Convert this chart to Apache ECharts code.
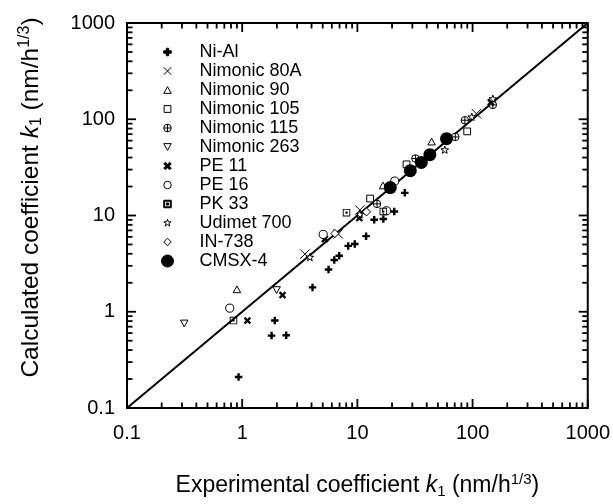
<!DOCTYPE html>
<html>
<head>
<meta charset="utf-8">
<script src="https://cdn.jsdelivr.net/npm/echarts@6/dist/echarts.min.js"></script>
<style>
html,body{margin:0;padding:0;background:#fff;}
#chart{width:613px;height:504px;}
</style>
</head>
<body>
<div id="chart"></div>
<script>
// ---- data (experimental k1, calculated k1) ----
const seriesNames = ['Ni-Al','Nimonic 80A','Nimonic 90','Nimonic 105','Nimonic 115','Nimonic 263','PE 11','PE 16','PK 33','Udimet 700','IN-738','CMSX-4'];
const niAl = [[0.93,0.21],[1.80,0.565],[1.92,0.81],[2.41,0.57],[4.08,1.79],[5.62,2.75],[6.30,3.45],[6.95,3.82],[8.32,4.83],[9.5,5.06],[11.9,6.1],[14.0,9.04],[16.8,9.2],[20.9,11.0],[25.8,17.2]];
const nimonic80A = [[3.50,3.97],[6.82,6.44],[10.5,11.4],[108,114]];
const nimonic90 = [[0.90,1.71],[16.7,20.5],[44.1,58.6]];
const nimonic105 = [[12.9,15.0],[26.7,34.0],[89.8,74.8]];
const nimonic115 = [[14.8,13.2],[31.9,39.1],[70.8,65.5],[85.7,97.7],[150,141]];
const nimonic263 = [[0.314,0.755],[1.99,1.68]];
const pe11 = [[1.11,0.81],[2.24,1.49],[5.22,5.69],[10.4,9.4],[144,150]];
const pe16 = [[0.78,1.09],[5.05,6.36],[17.9,11.2],[21.1,22.8]];
const pk33 = [[0.84,0.81],[8.05,10.7],[16.8,11.0]];
const udimet700 = [[3.87,3.66],[10.5,10.2],[57.4,47.8],[98.4,105],[150,162]];
const in738 = [[6.38,6.5],[12.0,10.9]];
const cmsx4 = [[19.3,19.5],[28.8,29.2],[35.9,35.6],[42.6,42.9],[59.4,62.8]];
const parityLine = [[0.1,0.1],[1000,1000]];
const tickLabels = ['0.1','1','10','100','1000'];
const majorTicks = [0.1,1,10,100,1000];
const decades = [0.1,1,10,100];
const minorSteps = [2,3,4,5,6,7,8,9];

const FONT = 'Liberation Sans, Arial, sans-serif';
const PAD = 'M-3,-3M13,13';
const sym = {
  plus: 'path://' + PAD + 'M3.4,0H6.6V3.4H10V6.6H6.6V10H3.4V6.6H0V3.4H3.4Z',
  thinX: 'path://' + PAD + 'M0,0L10,10M10,0L0,10',
  triUp: 'path://' + PAD + 'M5,0.5L10,9.5L0,9.5Z',
  square: 'path://' + PAD + 'M0.5,0.5H9.5V9.5H0.5Z',
  circPlus: 'path://' + PAD + 'M0,5A5,5,0,1,1,10,5A5,5,0,1,1,0,5ZM5,0V10M0,5H10',
  triDown: 'path://' + PAD + 'M0,0.5L10,0.5L5,9.5Z',
  boldX: 'path://' + PAD + 'M0,2.2L2.2,0L5,2.8L7.8,0L10,2.2L7.2,5L10,7.8L7.8,10L5,7.2L2.2,10L0,7.8L2.8,5Z',
  circle: 'path://' + PAD + 'M0,5A5,5,0,1,1,10,5A5,5,0,1,1,0,5Z',
  sqDot: 'path://' + PAD + 'M0,0H10V10H0ZM1.2,1.2V8.8H8.8V1.2ZM3.6,3.6H6.4V6.4H3.6Z',
  star: 'path://' + PAD + 'M5,0L6.18,3.38L9.76,3.46L6.9,5.62L7.94,9.05L5,7L2.06,9.05L3.1,5.62L0.24,3.46L3.82,3.38Z',
  diamond: 'path://' + PAD + 'M5,0L10,5L5,10L0,5Z'
};

function sc(name, data, symbol, size, filled, bw) {
  return {
    name: name, type: 'scatter', data: data, symbol: symbol, symbolSize: size,
    symbolKeepAspect: true,
    itemStyle: filled ? {color: '#000', borderColor: '#000', borderWidth: bw || 0, opacity: 1}
                      : {color: '#fff', borderColor: '#000', borderWidth: bw || 1, opacity: 1},
    emphasis: {disabled: true}, z: 3
  };
}

const chart = echarts.init(document.getElementById('chart'), null, {renderer: 'canvas'});

const tickSeries = {
  type: 'custom', coordinateSystem: 'cartesian2d', data: [[1,1]], silent: true, clip: false, z: 4,
  renderItem: function (params, api) {
    const cs = params.coordSys;
    const x0 = cs.x, y0 = cs.y, w = cs.width, h = cs.height;
    const children = [];
    const st = {stroke: '#000', lineWidth: 1.8};
    function add(x1, y1, x2, y2) { children.push({type: 'line', shape: {x1: x1, y1: y1, x2: x2, y2: y2}, style: st}); }
    const vals = [];
    majorTicks.forEach(v => vals.push([v, 9]));
    decades.forEach(d => minorSteps.forEach(m => vals.push([d * m, 5.5])));
    vals.forEach(function (p) {
      const px = api.coord([p[0], 1])[0];
      add(px, y0 + h, px, y0 + h - p[1]);
      add(px, y0, px, y0 + p[1]);
      const py = api.coord([1, p[0]])[1];
      add(x0, py, x0 + p[1], py);
      add(x0 + w, py, x0 + w - p[1], py);
    });
    return {type: 'group', children: children};
  }
};

function makeRich(big, small, lh) {
  return {
    t: {fontSize: big, fontFamily: FONT, color: '#000', lineHeight: lh},
    i: {fontSize: big, fontFamily: FONT, color: '#000', fontStyle: 'italic', lineHeight: lh},
    s: {fontSize: small, fontFamily: FONT, color: '#000', verticalAlign: 'bottom', lineHeight: lh},
    p: {fontSize: small, fontFamily: FONT, color: '#000', verticalAlign: 'top', lineHeight: lh}
  };
}

const option = {
  backgroundColor: '#fff',
  animation: false,
  grid: {left: 127, right: 25, top: 23, bottom: 89, show: true, borderColor: '#000', borderWidth: 2, containLabel: false},
  legend: {
    orient: 'vertical', left: 156, top: 38, itemWidth: 54, itemHeight: 12, itemGap: 1,
    data: seriesNames, selectedMode: false,
    itemStyle: {borderWidth: 1},
    textStyle: {fontSize: 18, fontFamily: FONT, color: '#000'}
  },
  xAxis: {
    type: 'log', logBase: 10, min: 0.1, max: 1000,
    name: '{t|Experimental coefficient }{i|k}{s|1}{t| (nm/h}{p|1/3}{t|)}',
    nameLocation: 'middle', nameGap: 64,
    nameTextStyle: {rich: makeRich(23, 15, 27)},
    axisLine: {show: true, lineStyle: {color: '#000', width: 2}},
    axisTick: {show: false}, minorTick: {show: false},
    splitLine: {show: false},
    axisLabel: {margin: 15, fontSize: 20, fontFamily: FONT, color: '#000', formatter: (v, i) => tickLabels[i]}
  },
  yAxis: {
    type: 'log', logBase: 10, min: 0.1, max: 1000,
    name: '{t|Calculated coefficient }{i|k}{s|1}{t| (nm/h}{p|1/3}{t|)}',
    nameLocation: 'middle', nameGap: 82,
    nameTextStyle: {rich: makeRich(24.5, 16, 28), padding: [0, 0, 0, 36]},
    axisLine: {show: true, lineStyle: {color: '#000', width: 2}},
    axisTick: {show: false}, minorTick: {show: false},
    splitLine: {show: false},
    axisLabel: {margin: 12, fontSize: 20, fontFamily: FONT, color: '#000', formatter: (v, i) => tickLabels[i]}
  },
  series: [
    {type: 'line', data: parityLine, symbol: 'none', lineStyle: {color: '#000', width: 2}, silent: true, z: 2},
    sc('Ni-Al', niAl, sym.plus, 12, true),
    sc('Nimonic 80A', nimonic80A, sym.thinX, 15, true, 1),
    sc('Nimonic 90', nimonic90, sym.triUp, 12, false),
    sc('Nimonic 105', nimonic105, sym.square, 12, false),
    sc('Nimonic 115', nimonic115, sym.circPlus, 12, false),
    sc('Nimonic 263', nimonic263, sym.triDown, 12, false),
    sc('PE 11', pe11, sym.boldX, 12, true),
    sc('PE 16', pe16, sym.circle, 13, false),
    sc('PK 33', pk33, sym.sqDot, 12, true),
    sc('Udimet 700', udimet700, sym.star, 13, false),
    sc('IN-738', in738, sym.diamond, 13, false),
    sc('CMSX-4', cmsx4, 'circle', 13, true),
    tickSeries
  ]
};
chart.setOption(option);
</script>
</body>
</html>
